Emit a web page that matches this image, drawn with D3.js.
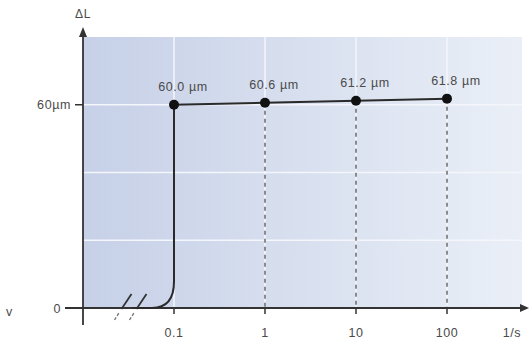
<!DOCTYPE html>
<html>
<head>
<meta charset="utf-8">
<script src="https://cdn.jsdelivr.net/npm/d3@7"></script>
<style>
  body { margin: 0; background: #fff; }
  text { font-family: "Liberation Sans", Arial, sans-serif; fill: #4a4a4a; letter-spacing: 0.6px; }
</style>
</head>
<body>
<script>
// data
var rates = [0.1, 1, 10, 100];
var lengths = [60.0, 60.6, 61.2, 61.8];
var pointLabels = ["60.0 µm", "60.6 µm", "61.2 µm", "61.8 µm"];
var xTickLabels = ["0.1", "1", "10", "100"];
var yTicks = [0, 60];
var yTickLabels = ["0", "60µm"];
var yGrid = [20, 40, 60];
var startRate = 0.035;

var width = 529, height = 347;
var margin = { top: 37, right: 7, bottom: 39, left: 83 };

var svg = d3.select("body").append("svg")
  .attr("width", width)
  .attr("height", height);

var x = d3.scaleLog()
  .domain([0.1, 100])
  .range([174, 447]);

var y = d3.scaleLinear()
  .domain([0, 80])
  .range([height - margin.bottom, margin.top]);

var defs = svg.append("defs");
var grad = defs.append("linearGradient")
  .attr("id", "bg")
  .attr("x1", "0%").attr("x2", "100%")
  .attr("y1", "0%").attr("y2", "0%");
grad.append("stop").attr("offset", "0%").attr("stop-color", "#c6d0e7");
grad.append("stop").attr("offset", "100%").attr("stop-color", "#eaeff7");

// background
svg.append("rect")
  .attr("x", margin.left)
  .attr("y", y(80))
  .attr("width", 522 - margin.left)
  .attr("height", y(0) - y(80))
  .attr("fill", "url(#bg)");

// white grid
svg.selectAll(".hgrid")
  .data(yGrid)
  .enter().append("line")
  .attr("x1", margin.left).attr("x2", 522)
  .attr("y1", function (d) { return y(d); })
  .attr("y2", function (d) { return y(d); })
  .attr("stroke", "#f4f6fb")
  .attr("stroke-width", 1.5);

svg.selectAll(".vgrid")
  .data(rates)
  .enter().append("line")
  .attr("x1", function (d) { return x(d); })
  .attr("x2", function (d) { return x(d); })
  .attr("y1", y(80))
  .attr("y2", y(0))
  .attr("stroke", "#f4f6fb")
  .attr("stroke-width", 1.5);

// dashed drop lines
svg.selectAll(".drop")
  .data(rates.slice(1))
  .enter().append("line")
  .attr("x1", function (d) { return x(d); })
  .attr("x2", function (d) { return x(d); })
  .attr("y1", function (d, i) { return y(lengths[i + 1]); })
  .attr("y2", y(0))
  .attr("stroke", "#555")
  .attr("stroke-width", 1.3)
  .attr("stroke-dasharray", "4,4");

// axes
var axisColor = "#333";
svg.append("line")
  .attr("x1", 65).attr("x2", 522)
  .attr("y1", y(0)).attr("y2", y(0))
  .attr("stroke", axisColor).attr("stroke-width", 1.8);
svg.append("path")
  .attr("d", "M529," + y(0) + " L520," + (y(0) - 4) + " L520," + (y(0) + 4) + " Z")
  .attr("fill", axisColor);

svg.append("line")
  .attr("x1", margin.left).attr("x2", margin.left)
  .attr("y1", 36).attr("y2", 325)
  .attr("stroke", axisColor).attr("stroke-width", 1.8);
svg.append("path")
  .attr("d", "M" + margin.left + ",27 L" + (margin.left - 4) + ",37 L" + (margin.left + 4) + ",37 Z")
  .attr("fill", axisColor);

// y ticks
svg.selectAll(".ytick")
  .data(yTicks)
  .enter().append("line")
  .attr("x1", function (d) { return d === 0 ? 65 : 75; })
  .attr("x2", margin.left)
  .attr("y1", function (d) { return y(d); })
  .attr("y2", function (d) { return y(d); })
  .attr("stroke", axisColor).attr("stroke-width", 1.5);

svg.selectAll(".ylabel")
  .data(yTicks)
  .enter().append("text")
  .attr("x", function (d) { return d === 0 ? 61 : 71; })
  .attr("y", function (d) { return y(d) + 4.5; })
  .attr("text-anchor", "end")
  .attr("font-size", 12.5)
  .text(function (d, i) { return yTickLabels[i]; });

// x ticks
svg.selectAll(".xtick")
  .data(rates)
  .enter().append("line")
  .attr("x1", function (d) { return x(d); })
  .attr("x2", function (d) { return x(d); })
  .attr("y1", y(0))
  .attr("y2", y(0) + 6)
  .attr("stroke", axisColor).attr("stroke-width", 1.5);

svg.selectAll(".xlabel")
  .data(rates)
  .enter().append("text")
  .attr("x", function (d) { return x(d); })
  .attr("y", y(0) + 29)
  .attr("text-anchor", "middle")
  .attr("font-size", 12.5)
  .text(function (d, i) { return xTickLabels[i]; });

svg.append("text")
  .attr("x", 512).attr("y", y(0) + 29)
  .attr("text-anchor", "middle")
  .attr("font-size", 12.5)
  .text("1/s");

svg.append("text")
  .attr("x", margin.left).attr("y", 18)
  .attr("text-anchor", "middle")
  .attr("font-size", 12)
  .text("ΔL");

svg.append("text")
  .attr("x", 6).attr("y", 316)
  .attr("font-size", 12.5)
  .text("v");

// axis break marks
[0, 15].forEach(function (dx) {
  var bx = x(startRate) - 12 + dx;
  svg.append("line")
    .attr("x1", bx + 1).attr("y1", y(0) + 1)
    .attr("x2", bx + 11).attr("y2", y(0) - 14)
    .attr("stroke", "#333").attr("stroke-width", 1.8);
  svg.append("line")
    .attr("x1", bx - 6).attr("y1", y(0) + 12)
    .attr("x2", bx - 1).attr("y2", y(0) + 4)
    .attr("stroke", "#777").attr("stroke-width", 1.4)
    .attr("stroke-dasharray", "3,2");
});

// step curve with rounded corner
var r = 22;
var x0 = x(startRate), x1 = x(rates[0]);
var path = d3.path();
path.moveTo(x0, y(0));
path.lineTo(x1 - r, y(0));
path.bezierCurveTo(x1 - r * 0.35, y(0), x1, y(0) - r * 0.4, x1, y(0) - r * 1.2);
path.lineTo(x1, y(lengths[0]));
svg.append("path")
  .attr("d", path.toString())
  .attr("fill", "none")
  .attr("stroke", "#2a2a2a")
  .attr("stroke-width", 2);

// data line
var line = d3.line()
  .x(function (d, i) { return x(rates[i]); })
  .y(function (d) { return y(d); });

svg.append("path")
  .datum(lengths)
  .attr("d", line)
  .attr("fill", "none")
  .attr("stroke", "#2a2a2a")
  .attr("stroke-width", 2);

svg.selectAll(".dot")
  .data(lengths)
  .enter().append("circle")
  .attr("cx", function (d, i) { return x(rates[i]); })
  .attr("cy", function (d) { return y(d); })
  .attr("r", 5)
  .attr("fill", "#111");

svg.selectAll(".plabel")
  .data(lengths)
  .enter().append("text")
  .attr("x", function (d, i) { return x(rates[i]) + 9; })
  .attr("y", function (d) { return y(d) - 14; })
  .attr("text-anchor", "middle")
  .attr("font-size", 12.5)
  .text(function (d, i) { return pointLabels[i]; });
</script>
</body>
</html>
